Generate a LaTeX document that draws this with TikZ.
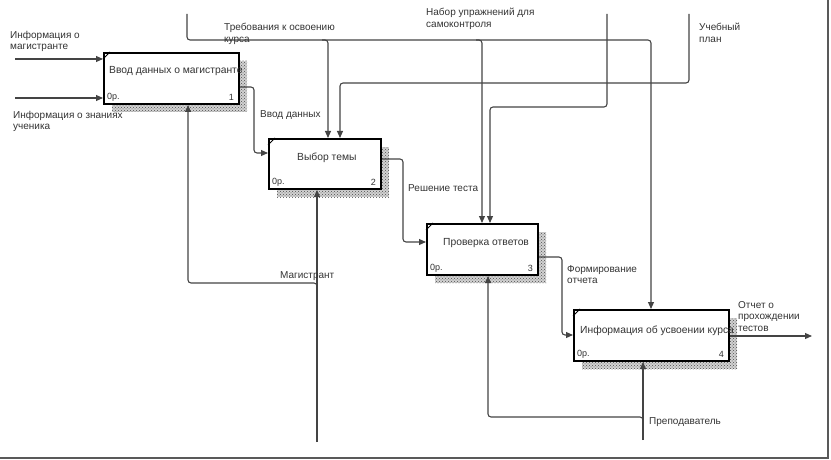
\documentclass[tikz,border=0pt]{standalone}
\usepackage{fontspec}
\setmainfont{Liberation Sans}
\usetikzlibrary{arrows.meta,patterns,calc}
\definecolor{ln}{HTML}{444444}
\definecolor{tx}{HTML}{333333}
\begin{document}
\begin{tikzpicture}[x=1pt,y=-1pt,
  box/.style={draw=black, line width=2pt, fill=white, anchor=north west, inner sep=0pt},
  shadowbox/.style={fill=gray!35, postaction={pattern=crosshatch dots, pattern color=gray!60!black}},
  conn/.style={draw=ln, line width=1.1pt, rounded corners=3pt, -{Triangle[length=7pt,width=6pt]}},
  lbl/.style={font=\fontsize{10}{11.5}\selectfont, text=tx, inner sep=0pt, align=left, anchor=north west},
  btxt/.style={font=\fontsize{10.3}{12}\selectfont, text=tx, inner sep=0pt, anchor=west},
  small/.style={font=\fontsize{9}{10}\selectfont, text=tx, inner sep=0pt},
  corner/.style={draw=black, line width=1pt}
  ]
\useasboundingbox (0,0) rectangle (831,460);

% shadows
\path[shadowbox] (112,61) rectangle (247,112);
\path[shadowbox] (277,147) rectangle (389,197);
\path[shadowbox] (435,232) rectangle (546,283);
\path[shadowbox] (582,318) rectangle (737,369);

% boxes
\node[box, minimum width=135pt, minimum height=51pt] (b1) at (103,52) {};
\node[box, minimum width=112pt, minimum height=50pt] (b2) at (268,138) {};
\node[box, minimum width=111pt, minimum height=51pt] (b3) at (426,223) {};
\node[box, minimum width=155pt, minimum height=51pt] (b4) at (573,309) {};

\foreach \b in {b1,b2,b3,b4}{
  \draw[corner] ($(\b.north west)+(0,7)$) -- ($(\b.north west)+(7,0)$);
}

% box texts
\node[btxt] (t1) at (109,71) {Ввод данных о магистранте};
\node[btxt] (t2) at (297,158) {Выбор темы};
\node[btxt] (t3) at (443,243) {Проверка ответов};
\node[btxt] (t4) at (580,331) {Информация об усвоении курса};

\node[small, anchor=west] (z1) at (107,97) {0р.};
\node[small, anchor=west] (z2) at (272,182) {0р.};
\node[small, anchor=west] (z3) at (430,268) {0р.};
\node[small, anchor=west] (z4) at (577,354) {0р.};
\node[small, anchor=east] (n1) at (234,97) {1};
\node[small, anchor=east] (n2) at (376,182) {2};
\node[small, anchor=east] (n3) at (533,268) {3};
\node[small, anchor=east] (n4) at (724,354) {4};

% inputs
\coordinate (in1) at (15,59);
\coordinate (in2) at (15,98);
\draw[conn] (in1) -- (in1 -| b1.west);
\draw[conn] (in2) -- (in2 -| b1.west);

% outputs between boxes
\draw[conn] (b1.east |- 0,87) -- (254,87) -- (254,153) -- (b2.west |- 0,153);
\draw[conn] (b2.east |- 0,159) -- (403,159) -- (403,242) -- (b3.west |- 0,242);
\draw[conn] (b3.east |- 0,257) -- (562,257) -- (562,335) -- (b4.west |- 0,335);
\coordinate (out4) at (812,336);
\draw[conn] (b4.east |- out4) -- (out4);

% controls
\coordinate (req) at (187,14);
\draw[conn] (req) -- (187,40) -- (651,40) -- (b4.north -| 651,0);
\draw[conn] (322,40) -- (328,40) -- (b2.north -| 328,0);
\draw[conn] (476,40) -- (482,40) -- (b3.north -| 482,0);

\coordinate (plan) at (689,14);
\draw[conn] (plan) -- (689,83) -- (340,83) -- (b2.north -| 340,0);

\coordinate (ex) at (607,14);
\draw[conn] (ex) -- (607,107) -- (490,107) -- (b3.north -| 490,0);

% mechanisms
\coordinate (mag) at (317,442);
\draw[conn] (mag) -- (b2.south -| mag);
\draw[conn] (317,289) -- (317,283) -- (188,283) -- (b1.south -| 188,0);

\coordinate (prep) at (643,440);
\draw[conn] (prep) -- (b4.south -| prep);
\draw[conn] (643,423) -- (643,417) -- (488,417) -- (b3.south -| 488,0);

% labels
\node[lbl] (l1) at (10,31) {Информация о\\магистранте};
\node[lbl] (l2) at (13,111) {Информация о знаниях\\ученика};
\node[lbl] (l3) at (224,23) {Требования к освоению\\курса};
\node[lbl] (l4) at (426,8) {Набор упражнений для\\самоконтроля};
\node[lbl] (l5) at (699,23) {Учебный\\план};
\node[lbl] (l6) at (260,110) {Ввод данных};
\node[lbl] (l7) at (408,184) {Решение теста};
\node[lbl] (l8) at (567,265) {Формирование\\отчета};
\node[lbl] (l9) at (738,301) {Отчет о\\прохождении\\тестов};
\node[lbl] (l10) at (280,271) {Магистрант};
\node[lbl] (l11) at (649,417) {Преподаватель};

% frame
\draw[line width=2pt, draw=gray!70!black] (0,458) -- (828,458) -- (828,0);
\end{tikzpicture}
\end{document}
